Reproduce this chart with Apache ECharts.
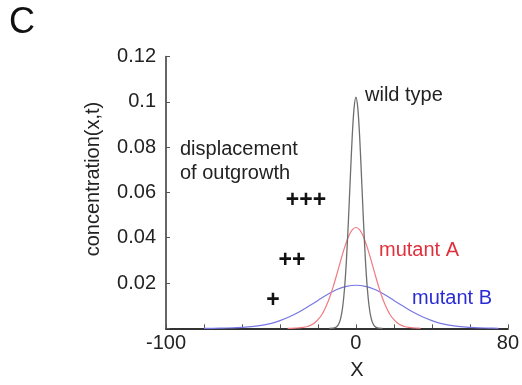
<!DOCTYPE html>
<html>
<head>
<meta charset="utf-8">
<script src="https://cdn.jsdelivr.net/npm/echarts@6/dist/echarts.min.js"></script>
<style>
html,body{margin:0;padding:0;background:#fff;}
#chart{width:522px;height:385px;}
</style>
</head>
<body>
<div id="chart"></div>
<script>
// ---- data ----
const wildX = [-14,-12,-11,-10,-9,-8,-7,-6,-5,-4,-3,-2,-1,0,1,2,3,4,5,6,7,8,9,10,11,12,14];
const wildY = [0,0.0001,0.0003,0.0008,0.0020,0.0045,0.0093,0.0176,0.0301,0.0467,0.0657,0.0839,0.0971,0.102,0.0971,0.0839,0.0657,0.0467,0.0301,0.0176,0.0093,0.0045,0.0020,0.0008,0.0003,0.0001,0];

const mutAX = [-36,-34,-32,-30,-28,-26,-24,-22,-20,-18,-16,-14,-12,-10,-8,-6,-4,-2,0,2,4,6,8,10,12,14,16,18,20,22,24,26,28,30,32,34];
const mutAY = [0,0,0.0001,0.0002,0.0004,0.0007,0.0013,0.0022,0.0038,0.0060,0.0092,0.0133,0.0183,0.0240,0.0300,0.0356,0.0403,0.0434,0.0445,0.0434,0.0403,0.0356,0.0300,0.0240,0.0183,0.0133,0.0092,0.0060,0.0038,0.0022,0.0013,0.0007,0.0004,0.0002,0.0001,0];

const mutBX = [-80,-75,-70,-65,-60,-55,-50,-45,-40,-35,-30,-25,-20,-15,-10,-5,0,5,10,15,20,25,30,35,40,45,50,55,60,65,70,75];
const mutBY = [0,0,0.0001,0.0002,0.0004,0.0007,0.0013,0.0021,0.0034,0.0051,0.0072,0.0097,0.0123,0.0149,0.0171,0.0185,0.019,0.0185,0.0171,0.0149,0.0123,0.0097,0.0072,0.0051,0.0034,0.0021,0.0013,0.0007,0.0004,0.0002,0.0001,0];

const xTickLabels = ['-100','0','80'];
const yTickLabels = ['0.02','0.04','0.06','0.08','0.1','0.12'];

const pair = (xs, ys) => xs.map((x, i) => [x, ys[i]]);
const FONT = '"Liberation Sans", Arial, sans-serif';

const chart = echarts.init(document.getElementById('chart'), null, {renderer: 'canvas'});
chart.setOption({
  animation: false,
  backgroundColor: '#fff',
  grid: {left: 166, right: 14, top: 56.5, bottom: 56.7, containLabel: false},
  xAxis: {
    type: 'value', min: -100, max: 80, interval: 20,
    axisLine: {show: true, onZero: false, lineStyle: {color: '#333', width: 2}},
    axisTick: {show: true, inside: true, length: 4, lineStyle: {color: '#555', width: 1}},
    axisLabel: {
      margin: 5, color: '#222', fontSize: 20, fontFamily: FONT,
      formatter: v => xTickLabels.indexOf(String(v)) >= 0 ? String(v) : ''
    },
    splitLine: {show: false}
  },
  yAxis: {
    type: 'value', min: 0, max: 0.12, interval: 0.02,
    axisLine: {show: true, onZero: false, lineStyle: {color: '#333', width: 1.5}},
    axisTick: {show: true, inside: true, length: 4, lineStyle: {color: '#555', width: 1}},
    axisLabel: {
      margin: 10, color: '#222', fontSize: 20, fontFamily: FONT,
      formatter: v => {
        const s = String(Math.round(v * 100) / 100);
        return yTickLabels.indexOf(s) >= 0 ? s : '';
      }
    },
    splitLine: {show: false}
  },
  series: [
    {name: 'mutant B', type: 'line', data: pair(mutBX, mutBY), smooth: 0.3, showSymbol: false,
     lineStyle: {color: '#7777e6', width: 1.2}},
    {name: 'mutant A', type: 'line', data: pair(mutAX, mutAY), smooth: 0.3, showSymbol: false,
     lineStyle: {color: '#f07a82', width: 1.2}},
    {name: 'wild type', type: 'line', data: pair(wildX, wildY), smooth: 0.3, showSymbol: false,
     lineStyle: {color: '#6e6e6e', width: 1.3}}
  ],
  graphic: [
    {type: 'text', x: 22, y: 23, style: {text: 'C', font: '36px ' + FONT, fill: '#111', align: 'center', verticalAlign: 'middle'}},
    {type: 'text', x: 93, y: 179, rotation: Math.PI / 2,
     style: {text: 'concentration(x,t)', font: '20px ' + FONT, fill: '#222', align: 'center', verticalAlign: 'middle'}},
    {type: 'text', x: 357, y: 370,
     style: {text: 'X', font: '20px ' + FONT, fill: '#222', align: 'center', verticalAlign: 'middle'}},
    {type: 'text', x: 365, y: 95,
     style: {text: 'wild type', font: '20px ' + FONT, fill: '#222', align: 'left', verticalAlign: 'middle'}},
    {type: 'text', x: 379, y: 250,
     style: {text: 'mutant A', font: '20px ' + FONT, fill: '#e0303c', align: 'left', verticalAlign: 'middle'}},
    {type: 'text', x: 412, y: 298,
     style: {text: 'mutant B', font: '20px ' + FONT, fill: '#2b2bd4', align: 'left', verticalAlign: 'middle'}},
    {type: 'text', x: 180, y: 149,
     style: {text: 'displacement', font: '20px ' + FONT, fill: '#222', align: 'left', verticalAlign: 'middle'}},
    {type: 'text', x: 180, y: 173,
     style: {text: 'of outgrowth', font: '20px ' + FONT, fill: '#222', align: 'left', verticalAlign: 'middle'}},
    {type: 'text', x: 306, y: 201,
     style: {text: '+++', font: 'bold 23px ' + FONT, fill: '#111', align: 'center', verticalAlign: 'middle'}},
    {type: 'text', x: 292, y: 261,
     style: {text: '++', font: 'bold 23px ' + FONT, fill: '#111', align: 'center', verticalAlign: 'middle'}},
    {type: 'text', x: 273, y: 301,
     style: {text: '+', font: 'bold 23px ' + FONT, fill: '#111', align: 'center', verticalAlign: 'middle'}}
  ]
});
</script>
</body>
</html>
